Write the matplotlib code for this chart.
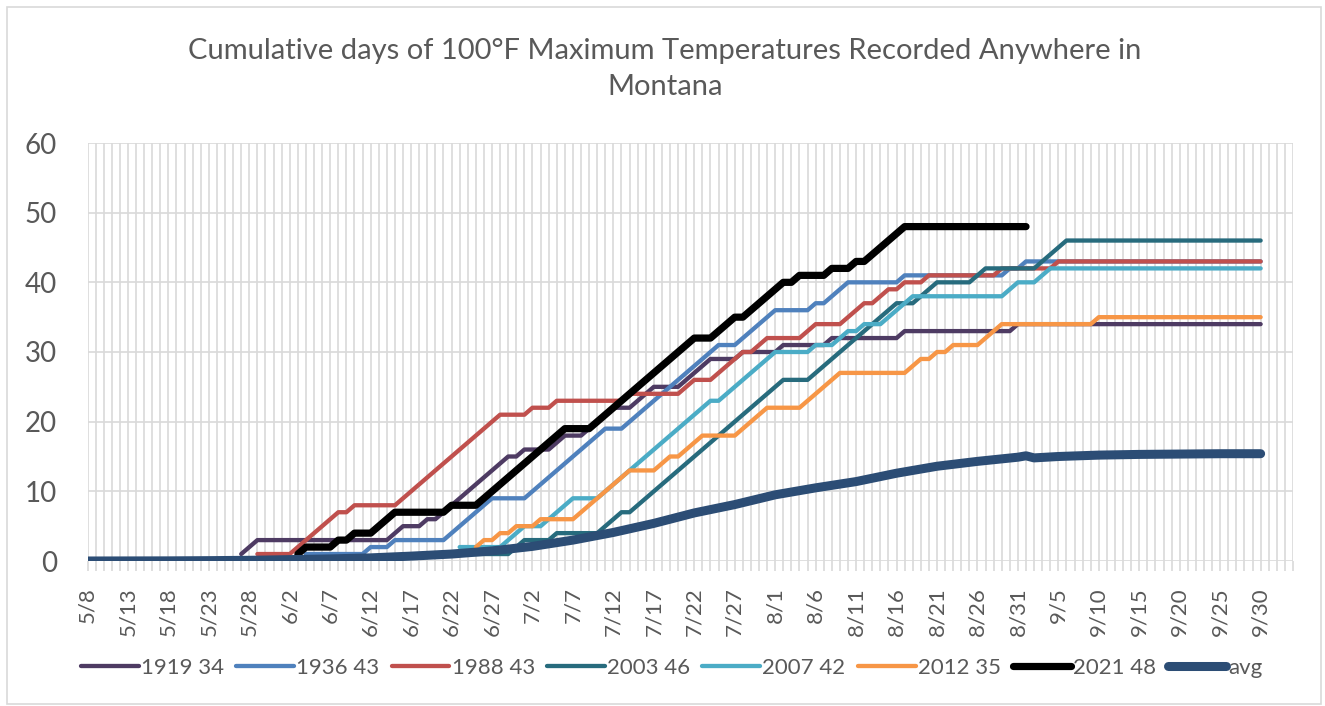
import numpy as np
import pandas as pd
import matplotlib
matplotlib.use("Agg")
import matplotlib.pyplot as plt
from matplotlib.patches import Rectangle

plt.rcParams['font.family'] = ['Lato', 'DejaVu Sans']

# category axis: one category per day, 5/8 .. 10/4 (labels shown every 5 days up to 9/30)
days = pd.date_range('2021-05-08', '2021-10-04')
day_labels = [f"{t.month}/{t.day}" for t in days]
pos = {lab: i for i, lab in enumerate(day_labels)}

# breakpoints (date, cumulative count)
y1919_dates = ['5/27', '5/29', '6/14', '6/16', '6/18', '6/19', '6/20', '6/28', '6/29', '6/30',
               '7/1', '7/4', '7/6', '7/8', '7/12', '7/14', '7/17', '7/20', '7/24', '7/27',
               '7/28', '8/1', '8/2', '8/7', '8/8', '8/16', '8/17', '8/30', '8/31', '9/30']
y1919_vals = [1, 3, 3, 5, 5, 6, 6, 14, 15, 15, 16, 16, 18, 18, 22, 22, 25, 25, 29, 29,
              30, 30, 31, 31, 32, 32, 33, 33, 34, 34]

y1936_dates = ['6/4', '6/11', '6/12', '6/14', '6/15', '6/21', '6/27', '7/1', '7/11', '7/13',
               '7/25', '7/27', '8/1', '8/5', '8/6', '8/7', '8/10', '8/16', '8/17', '8/29',
               '8/30', '8/31', '9/1', '9/30']
y1936_vals = [1, 1, 2, 2, 3, 3, 9, 9, 19, 19, 31, 31, 36, 36, 37, 37, 40, 40, 41, 41,
              42, 42, 43, 43]

y1988_dates = ['5/29', '6/2', '6/8', '6/9', '6/10', '6/15', '6/28', '7/1', '7/2', '7/4',
               '7/5', '7/13', '7/14', '7/20', '7/22', '7/24', '7/28', '7/29', '7/30', '7/31',
               '8/4', '8/6', '8/9', '8/12', '8/13', '8/15', '8/16', '8/17', '8/19', '8/20',
               '8/28', '8/29', '9/4', '9/5', '9/30']
y1988_vals = [1, 1, 7, 7, 8, 8, 21, 21, 22, 22, 23, 23, 24, 24, 26, 26, 30, 30, 31, 32,
              32, 34, 34, 37, 37, 39, 39, 40, 40, 41, 41, 42, 42, 43, 43]

y2003_dates = ['6/19', '6/29', '6/30', '7/1', '7/4', '7/5', '7/10', '7/13', '7/14', '8/2',
               '8/5', '8/16', '8/18', '8/21', '8/25', '8/27', '9/2', '9/6', '9/30']
y2003_vals = [1, 1, 2, 3, 3, 4, 4, 7, 7, 26, 26, 37, 37, 40, 40, 42, 42, 46, 46]

y2007_dates = ['6/23', '6/28', '7/1', '7/3', '7/7', '7/10', '7/24', '7/25', '7/31', '8/1',
               '8/5', '8/6', '8/8', '8/10', '8/11', '8/12', '8/14', '8/17', '8/18', '8/29',
               '8/31', '9/2', '9/4', '9/30']
y2007_vals = [2, 2, 5, 5, 9, 9, 23, 23, 29, 30, 30, 31, 31, 33, 33, 34, 34, 37, 38, 38,
              40, 40, 42, 42]

y2012_dates = ['6/25', '6/26', '6/27', '6/28', '6/29', '6/30', '7/2', '7/3', '7/7', '7/14',
               '7/17', '7/19', '7/20', '7/23', '7/27', '7/31', '8/4', '8/9', '8/17', '8/19',
               '8/20', '8/21', '8/22', '8/23', '8/26', '8/29', '9/9', '9/10', '9/30']
y2012_vals = [2, 3, 3, 4, 4, 5, 5, 6, 6, 13, 13, 15, 15, 18, 18, 22, 22, 27, 27, 29,
              29, 30, 30, 31, 31, 34, 34, 35, 35]

y2021_dates = ['6/3', '6/4', '6/7', '6/8', '6/9', '6/10', '6/12', '6/15', '6/21', '6/22',
               '6/25', '7/6', '7/9', '7/22', '7/24', '7/27', '7/28', '8/2', '8/3', '8/4',
               '8/7', '8/8', '8/10', '8/11', '8/12', '8/17', '9/1']
y2021_vals = [1, 2, 2, 3, 3, 4, 4, 7, 7, 8, 8, 19, 19, 32, 32, 35, 35, 40, 40, 41,
              41, 42, 42, 43, 43, 48, 48]

avg_dates = ['5/8', '5/18', '5/23', '5/28', '6/2', '6/7', '6/12', '6/17', '6/22', '6/27',
             '7/2', '7/7', '7/12', '7/17', '7/22', '7/27', '8/1', '8/6', '8/11', '8/16',
             '8/21', '8/26', '8/31', '9/1', '9/2', '9/5', '9/10', '9/15', '9/20', '9/25', '9/30']
avg_vals = [0, 0.02, 0.05, 0.1, 0.2, 0.3, 0.45, 0.7, 1.0, 1.45,
            2.1, 3.0, 4.1, 5.4, 6.9, 8.1, 9.5, 10.5, 11.4, 12.6,
            13.6, 14.3, 14.9, 15.1, 14.8, 15.0, 15.2, 15.3, 15.35, 15.4, 15.4]

series = [
    ('1919 34', y1919_dates, y1919_vals, '#4E3B63', 3.1),
    ('1936 43', y1936_dates, y1936_vals, '#4F81BD', 3.1),
    ('1988 43', y1988_dates, y1988_vals, '#C0504D', 3.1),
    ('2003 46', y2003_dates, y2003_vals, '#276B7D', 3.1),
    ('2007 42', y2007_dates, y2007_vals, '#4BACC6', 3.1),
    ('2012 35', y2012_dates, y2012_vals, '#F79646', 3.1),
    ('2021 48', y2021_dates, y2021_vals, '#000000', 5.2),
    ('avg', avg_dates, avg_vals, '#2C4D75', 6.5),
]

txt = '#595959'
grid = '#D9D9D9'

fig = plt.figure(figsize=(13.25, 7.06), dpi=100)
ax = fig.add_axes([87.5 / 1325, 1 - 561 / 706, (1293 - 87.5) / 1325, 418 / 706])

for name, dts, vals, col, lw in series:
    x = [pos[d] for d in dts]
    ax.plot(x, vals, color=col, lw=lw, label=name,
            solid_capstyle='round', solid_joinstyle='round', zorder=3)

ax.set_xlim(0, len(days) - 1)
ax.set_ylim(0, 60)

major = list(range(0, 146, 5))
ax.set_xticks(major)
ax.set_xticklabels([day_labels[i] for i in major], rotation=90, color=txt, fontsize=16)
ax.set_xticks(range(len(days)), minor=True)
ax.set_yticks(range(0, 61, 10))
ax.set_yticklabels([str(v) for v in range(0, 61, 10)], color=txt, fontsize=20)

ax.grid(True, which='both', axis='x', color=grid, lw=1.2, zorder=0)
ax.grid(True, which='major', axis='y', color=grid, lw=1.2, zorder=0)
ax.tick_params(axis='x', which='both', length=7, color=grid, width=1.2, pad=12)
ax.tick_params(axis='y', length=0, pad=22)
for s in ax.spines.values():
    s.set_visible(False)

fig.text(0.502, 1 - 69 / 706,
         'Cumulative days of 100°F Maximum Temperatures Recorded Anywhere in\nMontana',
         ha='center', va='center', fontsize=21, color=txt, linespacing=1.45)

leg = fig.legend(loc='center', bbox_to_anchor=(0.507, 1 - 668 / 706), ncol=8,
                 frameon=False, fontsize=16, handlelength=2.6, handletextpad=0.1,
                 columnspacing=0.55)
for t in leg.get_texts():
    t.set_color(txt)

fig.patches.append(Rectangle((7 / 1325, 2 / 706), 1314 / 1325, 697 / 706,
                             transform=fig.transFigure, fill=False,
                             edgecolor=grid, lw=1.2))

fig.savefig('out.png', dpi=100)
